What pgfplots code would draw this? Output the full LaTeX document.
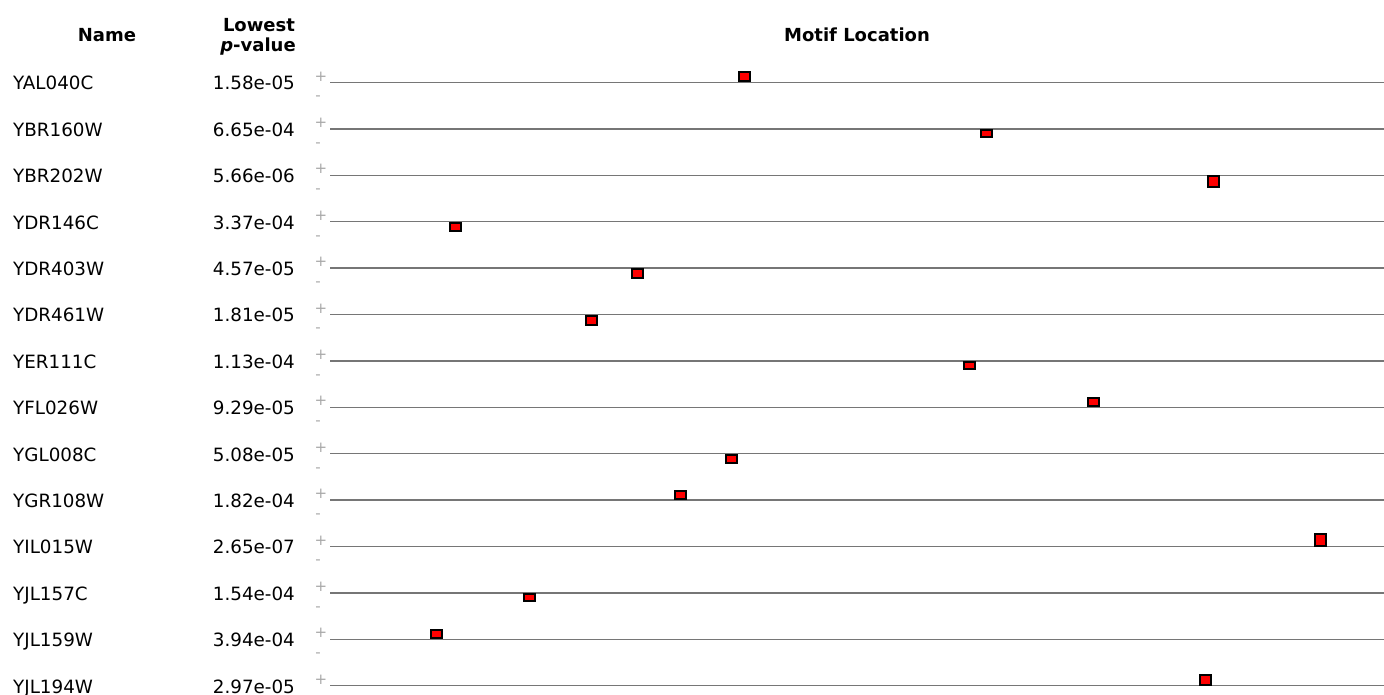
\documentclass[border=0pt]{standalone}
\usepackage{pgfplots}
\pgfplotsset{compat=1.18}
\usepackage{fontspec}
\setmainfont{DejaVu Sans}
\definecolor{rowgray}{HTML}{767676}
\definecolor{signgray}{HTML}{A8A8A8}
\definecolor{boxred}{HTML}{FF0000}
\pgfplotsset{motifbox/.style={draw=black, fill=boxred, line width=2pt, mark=none, line join=miter}}
\begin{document}
\begin{tikzpicture}
\path[use as bounding box, clip] (0,0) rectangle (1384pt,695pt);
\begin{axis}[
  at={(0,0)}, anchor=south west,
  width=1384pt, height=695pt, scale only axis,
  xmin=0, xmax=1384, ymin=0, ymax=695, y dir=reverse,
  hide axis, clip=false,
  unbounded coords=jump,
]
% row lines
\addplot[rowgray, line width=1.5pt, mark=none] coordinates {
(330,82.5)(1390,82.5)(330,nan)
(330,128.9)(1390,128.9)(330,nan)
(330,175.3)(1390,175.3)(330,nan)
(330,221.7)(1390,221.7)(330,nan)
(330,268.1)(1390,268.1)(330,nan)
(330,314.5)(1390,314.5)(330,nan)
(330,360.9)(1390,360.9)(330,nan)
(330,407.3)(1390,407.3)(330,nan)
(330,453.7)(1390,453.7)(330,nan)
(330,500.1)(1390,500.1)(330,nan)
(330,546.5)(1390,546.5)(330,nan)
(330,592.9)(1390,592.9)(330,nan)
(330,639.3)(1390,639.3)(330,nan)
(330,685.7)(1390,685.7)
};
% motif boxes
\addplot[motifbox] coordinates {(739,81.5)(750,81.5)(750,71.8)(739,71.8)} -- cycle;
\addplot[motifbox] coordinates {(980.5,129.9)(991.5,129.9)(991.5,136.6)(980.5,136.6)} -- cycle;
\addplot[motifbox] coordinates {(1207.8,176.3)(1218.8,176.3)(1218.8,187)(1207.8,187)} -- cycle;
\addplot[motifbox] coordinates {(450.3,222.7)(461.3,222.7)(461.3,230.7)(450.3,230.7)} -- cycle;
\addplot[motifbox] coordinates {(631.5,269.1)(642.5,269.1)(642.5,277.8)(631.5,277.8)} -- cycle;
\addplot[motifbox] coordinates {(585.5,315.5)(596.5,315.5)(596.5,324.8)(585.5,324.8)} -- cycle;
\addplot[motifbox] coordinates {(964.2,361.9)(975.2,361.9)(975.2,368.6)(964.2,368.6)} -- cycle;
\addplot[motifbox] coordinates {(1088.2,406.3)(1099.2,406.3)(1099.2,398)(1088.2,398)} -- cycle;
\addplot[motifbox] coordinates {(725.5,454.7)(736.5,454.7)(736.5,463.4)(725.5,463.4)} -- cycle;
\addplot[motifbox] coordinates {(674.8,499.1)(685.8,499.1)(685.8,491.1)(674.8,491.1)} -- cycle;
\addplot[motifbox] coordinates {(1314.8,545.5)(1325.8,545.5)(1325.8,533.5)(1314.8,533.5)} -- cycle;
\addplot[motifbox] coordinates {(523.5,593.9)(534.5,593.9)(534.5,601.4)(523.5,601.4)} -- cycle;
\addplot[motifbox] coordinates {(430.8,638.3)(441.8,638.3)(441.8,630.3)(430.8,630.3)} -- cycle;
\addplot[motifbox] coordinates {(1200,684.7)(1211,684.7)(1211,675.4)(1200,675.4)} -- cycle;
\end{axis}
% headers (picture is 1pt per pixel; tikz y = 695 - pixel y)
\node[font=\fontsize{18}{21}\bfseries\selectfont, anchor=base, inner sep=0pt] at (107pt,653pt) {Name};
\node[font=\fontsize{18}{21}\bfseries\selectfont, anchor=base, inner sep=0pt] at (259pt,663pt) {Lowest};
\node[font=\fontsize{18}{21}\bfseries\selectfont, anchor=base, inner sep=0pt] at (258pt,643.5pt) {\textit{p}-value};
\node[font=\fontsize{18}{21}\bfseries\selectfont, anchor=base, inner sep=0pt] at (857pt,653pt) {Motif Location};
% names and p-values
\foreach \L/\nm/\pv in {82.5/YAL040C/1.58e-05, 128.9/YBR160W/6.65e-04, 175.3/YBR202W/5.66e-06,
  221.7/YDR146C/3.37e-04, 268.1/YDR403W/4.57e-05, 314.5/YDR461W/1.81e-05,
  360.9/YER111C/1.13e-04, 407.3/YFL026W/9.29e-05, 453.7/YGL008C/5.08e-05,
  500.1/YGR108W/1.82e-04, 546.5/YIL015W/2.65e-07, 592.9/YJL157C/1.54e-04,
  639.3/YJL159W/3.94e-04, 685.7/YJL194W/2.97e-05} {
  \node[font=\fontsize{18.3}{21}\selectfont, anchor=base west, inner sep=0pt] at (13pt,{(695-\L-7.4)*1pt}) {\nm};
  \node[font=\fontsize{18.3}{21}\selectfont, anchor=base east, inner sep=0pt] at (295pt,{(695-\L-7.4)*1pt}) {\pv};
  \node[font=\fontsize{15}{15}\selectfont, text=signgray, inner sep=0pt] at (321pt,{(695-\L+6)*1pt}) {+};
}
\foreach \L in {82.5,128.9,175.3,221.7,268.1,314.5,360.9,407.3,453.7,500.1,546.5,592.9,639.3} {
  \node[font=\fontsize{15}{15}\selectfont, text=signgray, inner sep=0pt] at (318pt,{(695-\L-16)*1pt}) {-};
}
\end{tikzpicture}
\end{document}
